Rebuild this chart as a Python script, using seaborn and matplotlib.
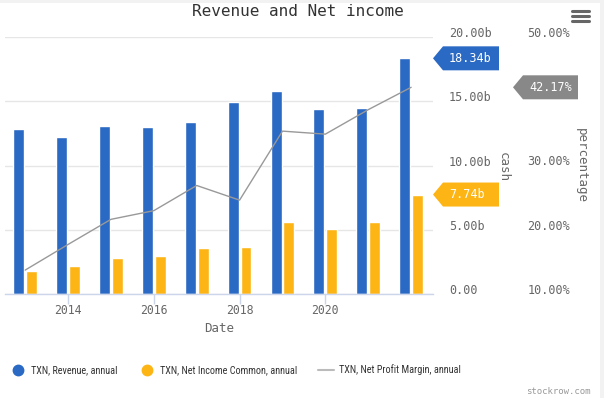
import matplotlib
matplotlib.use("Agg")
import matplotlib.pyplot as plt
import seaborn as sns
import pandas as pd
from matplotlib.lines import Line2D
from matplotlib.patches import Polygon, Rectangle
from matplotlib.transforms import IdentityTransform
from matplotlib import font_manager as fm

# ---------------- data ----------------
years = [2012, 2013, 2014, 2015, 2016, 2017, 2018, 2019, 2020, 2021]
revenue = [12.83, 12.21, 13.05, 13.00, 13.37, 14.96, 15.78, 14.38, 14.46, 18.34]      # billions
net_income = [1.76, 2.16, 2.82, 2.99, 3.60, 3.68, 5.58, 5.02, 5.60, 7.74]            # billions
net_margin = [13.72, 17.71, 21.62, 22.97, 26.89, 24.61, 35.35, 34.88, 38.69, 42.17]  # percent
series_names = ["TXN, Revenue, annual", "TXN, Net Income Common, annual",
                "TXN, Net Profit Margin, annual"]
x_ticks = [2014, 2016, 2018, 2020]
cash_ticks = [0, 5, 10, 15, 20]
cash_labels = ["0.00", "5.00b", "10.00b", "15.00b", "20.00b"]
pct_ticks = [10, 20, 30, 50]
pct_labels = ["10.00%", "20.00%", "30.00%", "50.00%"]

BLUE = "#2a69c4"
YELLOW = "#fdb515"
GREY = "#999999"
FLAG_GREY = "#888888"
TXT = "#666666"

mono = "DejaVu Sans Mono"


def has_font(name):
    try:
        fm.findfont(fm.FontProperties(family=name), fallback_to_default=False)
        return True
    except Exception:
        return False


legend_family, legend_size = ["Liberation Sans", "DejaVu Sans"], 6.7
for cand in ["Liberation Sans Narrow", "DejaVu Sans Condensed", "Roboto Condensed",
             "Open Sans Condensed", "Fira Sans Condensed"]:
    if has_font(cand):
        legend_family, legend_size = [cand, "DejaVu Sans"], 7.3
        break

sns.set_theme(style="white")
plt.rcParams["font.family"] = [mono, "DejaVu Sans"]

# period-end dates -> plotted at the start of the following year
pos = [y + 1 for y in years]
df_bars = pd.DataFrame({
    "pos": pos * 2,
    "value": revenue + net_income,
    "series": [series_names[0]] * len(years) + [series_names[1]] * len(years),
})
df_line = pd.DataFrame({"pos": pos, "margin": net_margin})

W, H = 604, 398
fig = plt.figure(figsize=(W / 100, H / 100), dpi=100)
fig.patch.set_facecolor("white")
ax = fig.add_axes([5 / W, 1 - 294 / H, 428 / W, 257 / H])
ax.set_facecolor("white")

sns.barplot(data=df_bars, x="pos", y="value", hue="series", native_scale=True,
            palette={series_names[0]: BLUE, series_names[1]: YELLOW},
            width=0.6, gap=0.15, legend=False, ax=ax, zorder=3, saturation=1,
            errorbar=None)

ax2 = ax.twinx()
sns.lineplot(data=df_line, x="pos", y="margin", color=GREY, linewidth=1,
             ax=ax2, zorder=5)

# cash axis (right side)
ax.set_xlim(2012.53, 2022.51)
ax.set_ylim(0, 20)
ax.set_yticks(cash_ticks)
ax.set_yticklabels(cash_labels)
ax.yaxis.tick_right()
ax.tick_params(axis="y", left=False, right=True, labelleft=False, labelright=True,
               length=0, pad=11.5, labelsize=8.5, labelcolor=TXT)
for lab in ax.get_yticklabels():
    lab.set_verticalalignment("baseline")
ax.set_xticks(x_ticks)
ax.set_xticklabels([str(t) for t in x_ticks])
ax.tick_params(axis="x", length=7, width=1, color="#ccd6eb", pad=0,
               labelsize=8.3, labelcolor=TXT, bottom=True)
ax.grid(axis="y", color="#e6e6e6", linewidth=1, zorder=0)
ax.grid(axis="x", visible=False)
for s in ["top", "left", "right"]:
    ax.spines[s].set_visible(False)
ax.spines["bottom"].set_color("#ccd6eb")
ax.spines["bottom"].set_linewidth(1)
ax.spines["bottom"].set_zorder(4)
ax.set_xlabel("Date", fontsize=9, color=TXT, labelpad=3.5)
ax.set_ylabel("")
ax.set_axisbelow(True)

# percentage axis
ax2.set_ylim(10, 50)
ax2.set_xlim(2012.53, 2022.51)
ax2.set_yticks(pct_ticks)
ax2.set_yticklabels(pct_labels)
ax2.tick_params(axis="y", length=0, pad=68, labelsize=8.5, labelcolor=TXT)
for lab in ax2.get_yticklabels():
    lab.set_verticalalignment("baseline")
ax2.grid(False)
for s in ax2.spines.values():
    s.set_visible(False)
ax2.set_xlabel("")
ax2.set_ylabel("")

# axis titles
fig.text(503 / W, 1 - 167 / H, "cash", rotation=270, ha="center", va="center",
         fontsize=9, color=TXT)
fig.text(581 / W, 1 - 165 / H, "percentage", rotation=270, ha="center", va="center",
         fontsize=9, color=TXT)

# title
fig.text(298 / W, 1 - 11 / H, "Revenue and Net income", ha="center", va="center",
         fontsize=11.5, color="#333333")

# value flags (positioned from data values)
x_edge = ax.transAxes.transform((1, 0))[0]


def flag(y_disp, x_tip, width, color, text):
    h = 12
    pts = [(x_tip, y_disp), (x_tip + 10, y_disp + h), (x_tip + width, y_disp + h),
           (x_tip + width, y_disp - h), (x_tip + 10, y_disp - h)]
    fig.add_artist(Polygon(pts, closed=True, facecolor=color, edgecolor="none",
                           transform=IdentityTransform(), zorder=10))
    fig.add_artist(plt.Text(x_tip + 16, y_disp, text, color="white", fontsize=8.5,
                            family=mono, ha="left", va="center",
                            transform=IdentityTransform(), zorder=11))


flag(ax.transData.transform((0, revenue[-1]))[1], x_edge, 66, BLUE, f"{revenue[-1]:.2f}b")
flag(ax.transData.transform((0, net_income[-1]))[1], x_edge, 66, YELLOW, f"{net_income[-1]:.2f}b")
flag(ax2.transData.transform((0, net_margin[-1]))[1], x_edge + 80, 65, FLAG_GREY,
     f"{net_margin[-1]:.2f}%")

# legend
handles = [
    Line2D([], [], marker="o", linestyle="none", markersize=7.5, color=BLUE),
    Line2D([], [], marker="o", linestyle="none", markersize=7.5, color=YELLOW),
    Line2D([], [], color="#bbbbbb", linewidth=1.5),
]
leg = fig.legend(handles, series_names, loc="center left",
                 bbox_to_anchor=(10 / W, 1 - 370 / H), ncol=3, frameon=False,
                 handlelength=1.58, handletextpad=0.5, columnspacing=2.08,
                 borderpad=0, borderaxespad=0,
                 prop={"family": legend_family, "size": legend_size})
for t in leg.get_texts():
    t.set_color("#333333")

fig.text(591 / W, 1 - 391 / H, "stockrow.com", ha="right", va="center",
         fontsize=6.5, color="#999999", family=mono)

# menu icon
for yy in (10.7, 15.7, 20.7):
    fig.add_artist(Line2D([572 / W, 589 / W], [1 - yy / H, 1 - yy / H],
                          color="#666666", linewidth=2.2, transform=fig.transFigure))

# faint frame at top and right
fig.add_artist(Rectangle((0, 1 - 3 / H), 1, 3 / H, transform=fig.transFigure,
                         facecolor="#f2f2f2", edgecolor="none", zorder=-1))
fig.add_artist(Rectangle((1 - 4 / W, 0), 4 / W, 1, transform=fig.transFigure,
                         facecolor="#f2f2f2", edgecolor="none", zorder=-1))

fig.savefig("out.png", dpi=100, facecolor="white")
